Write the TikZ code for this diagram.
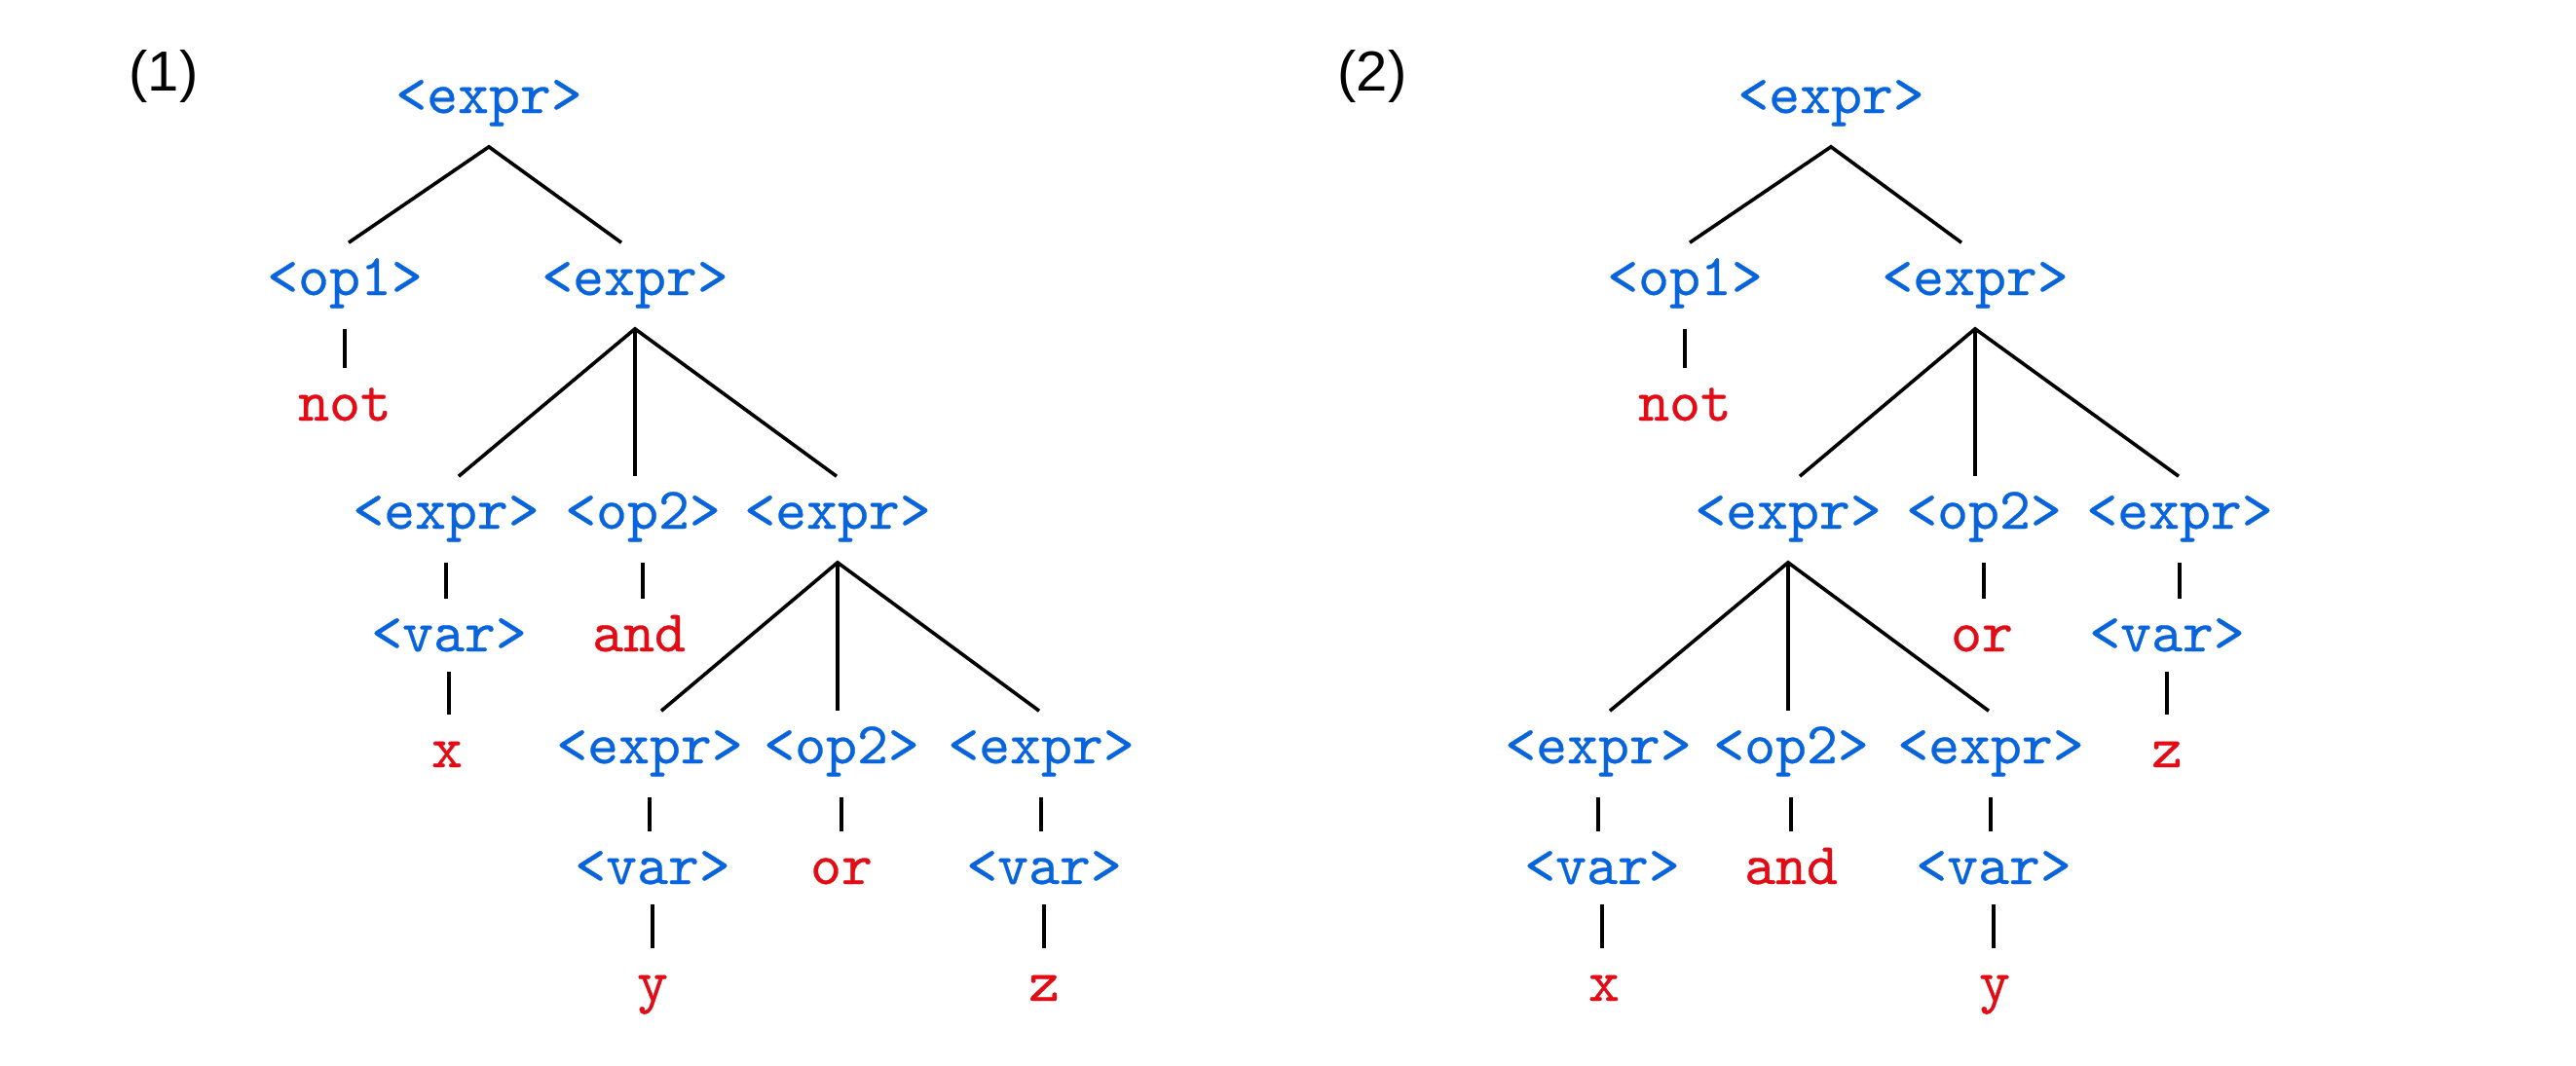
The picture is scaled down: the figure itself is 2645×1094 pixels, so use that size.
\documentclass[tikz,border=0pt]{standalone}
\usepackage{fontspec}
\newfontfamily\labelfont{Liberation Sans}
\newfontfamily\treefont{lmmono10-regular.otf}[FakeBold=0.45]
\definecolor{ntblue}{RGB}{8,100,220}
\definecolor{tred}{RGB}{225,12,22}
\begin{document}
\begin{tikzpicture}[x=0.25pt,y=-0.25pt,
  tn/.style={inner sep=0pt, anchor=base, text height=13.25pt, text depth=8.5pt,
    font=\treefont\fontsize{15.2}{18}\selectfont},
  nt/.style={tn, text=ntblue},
  tm/.style={tn, text=tred},
  vr/.style={nt, text depth=5pt},
  lbl/.style={inner sep=0pt, anchor=base, font=\labelfont\fontsize{14.5}{17}\selectfont},
  edge/.style={draw=black, line width=0.9pt}]
\useasboundingbox (0,0) rectangle (2645,1094);

% ---------- tree (1) ----------
\node[lbl] (L1) at (168,93) {(1)};
\node[nt] (a0) at (502,116) {<expr>};
\node[nt] (a1) at (354,303) {<op1>};
\node[nt] (a2) at (652,303) {<expr>};
\node[tm] (a3) at (354,432) {not};
\node[nt] (a4) at (458,543) {<expr>};
\node[nt] (a5) at (660,543) {<op2>};
\node[nt] (a6) at (860,543) {<expr>};
\node[vr] (a7) at (461,669) {<var>};
\node[tm] (a8) at (656,669) {and};
\node[tm] (a9) at (459,788) {x};
\node[nt] (b1) at (667,784) {<expr>};
\node[nt] (b2) at (864,784) {<op2>};
\node[nt] (b3) at (1069,784) {<expr>};
\node[vr] (b4) at (670,908) {<var>};
\node[tm] (b5) at (864,908) {or};
\node[vr] (b6) at (1072,908) {<var>};
\node[tm] (b7) at (670,1028) {y};
\node[tm] (b8) at (1072,1028) {z};

\draw[edge] ([xshift=1pt]a1.north) -- (a0.south) -- ([xshift=-3.5pt]a2.north);
\draw[edge] (a1.south) -- (a1.south |- a3.north);
\draw[edge] ([xshift=3.25pt]a4.north) -- (a2.south) -- ([xshift=-0.25pt]a6.north);
\draw[edge] (a2.south) -- (a2.south |- a5.north);
\draw[edge] (a4.south) -- (a4.south |- a7.north);
\draw[edge] (a5.south) -- (a5.south |- a8.north);
\draw[edge] (a7.south) -- (a7.south |- a9.north);
\draw[edge] ([xshift=3pt]b1.north) -- (a6.south) -- ([xshift=-0.5pt]b3.north);
\draw[edge] (a6.south) -- (a6.south |- b2.north);
\draw[edge] (b1.south) -- (b1.south |- b4.north);
\draw[edge] (b2.south) -- (b2.south |- b5.north);
\draw[edge] (b3.south) -- (b3.south |- b6.north);
\draw[edge] (b4.south) -- (b4.south |- b7.north);
\draw[edge] (b6.south) -- (b6.south |- b8.north);

% ---------- tree (2) ----------
\node[lbl] (L2) at (1409,93) {(2)};
\node[nt] (c0) at (1880,116) {<expr>};
\node[nt] (c1) at (1730,303) {<op1>};
\node[nt] (c2) at (2028,303) {<expr>};
\node[tm] (c3) at (1730,432) {not};
\node[nt] (c4) at (1836,543) {<expr>};
\node[nt] (c5) at (2037,543) {<op2>};
\node[nt] (c6) at (2238,543) {<expr>};
\node[tm] (c7) at (2035,669) {or};
\node[vr] (c8) at (2225,669) {<var>};
\node[tm] (c9) at (2225,788) {z};
\node[nt] (d1) at (1641,784) {<expr>};
\node[nt] (d2) at (1839,784) {<op2>};
\node[nt] (d3) at (2044,784) {<expr>};
\node[vr] (d4) at (1645,908) {<var>};
\node[tm] (d5) at (1839,908) {and};
\node[vr] (d6) at (2047,908) {<var>};
\node[tm] (d7) at (1647,1028) {x};
\node[tm] (d8) at (2048,1028) {y};

\draw[edge] ([xshift=1.25pt]c1.north) -- (c0.south) -- ([xshift=-3.5pt]c2.north);
\draw[edge] (c1.south) -- (c1.south |- c3.north);
\draw[edge] ([xshift=3pt]c4.north) -- (c2.south) -- ([xshift=-0.25pt]c6.north);
\draw[edge] (c2.south) -- (c2.south |- c5.north);
\draw[edge] (c5.south) -- (c5.south |- c7.north);
\draw[edge] (c6.south) -- (c6.south |- c8.north);
\draw[edge] (c8.south) -- (c8.south |- c9.north);
\draw[edge] ([xshift=3pt]d1.north) -- (c4.south) -- ([xshift=-0.5pt]d3.north);
\draw[edge] (c4.south) -- (c4.south |- d2.north);
\draw[edge] (d1.south) -- (d1.south |- d4.north);
\draw[edge] (d2.south) -- (d2.south |- d5.north);
\draw[edge] (d3.south) -- (d3.south |- d6.north);
\draw[edge] (d4.south) -- (d4.south |- d7.north);
\draw[edge] (d6.south) -- (d6.south |- d8.north);
\end{tikzpicture}
\end{document}
